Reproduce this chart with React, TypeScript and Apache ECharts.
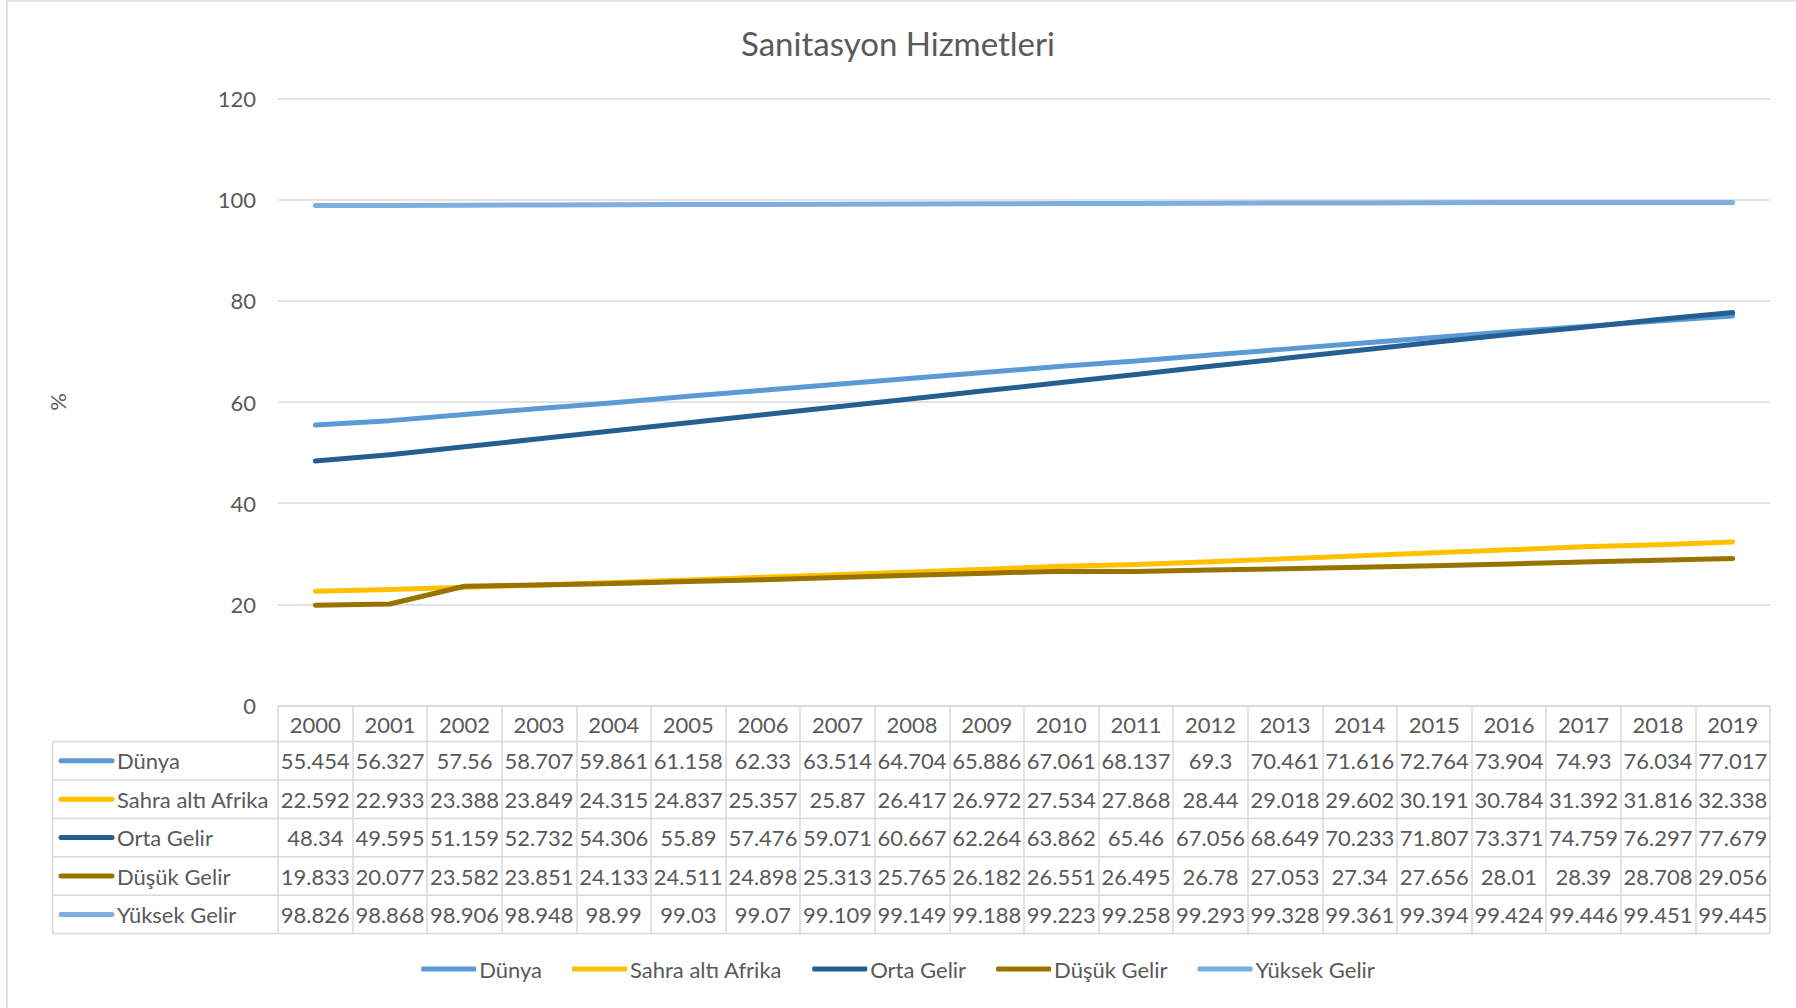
import React, { useEffect, useRef } from "react";
import * as echarts from "echarts";

const years = ["2000","2001","2002","2003","2004","2005","2006","2007","2008","2009","2010","2011","2012","2013","2014","2015","2016","2017","2018","2019"];
const dunya = [55.454,56.327,57.56,58.707,59.861,61.158,62.33,63.514,64.704,65.886,67.061,68.137,69.3,70.461,71.616,72.764,73.904,74.93,76.034,77.017];
const sahra = [22.592,22.933,23.388,23.849,24.315,24.837,25.357,25.87,26.417,26.972,27.534,27.868,28.44,29.018,29.602,30.191,30.784,31.392,31.816,32.338];
const orta = [48.34,49.595,51.159,52.732,54.306,55.89,57.476,59.071,60.667,62.264,63.862,65.46,67.056,68.649,70.233,71.807,73.371,74.759,76.297,77.679];
const dusuk = [19.833,20.077,23.582,23.851,24.133,24.511,24.898,25.313,25.765,26.182,26.551,26.495,26.78,27.053,27.34,27.656,28.01,28.39,28.708,29.056];
const yuksek = [98.826,98.868,98.906,98.948,98.99,99.03,99.07,99.109,99.149,99.188,99.223,99.258,99.293,99.328,99.361,99.394,99.424,99.446,99.451,99.445];
const seriesNames = ["Dünya","Sahra altı Afrika","Orta Gelir","Düşük Gelir","Yüksek Gelir"];
const seriesColors = ["#5B9BD5","#FFC000","#255E91","#997300","#7CAFDD"];
const seriesData = [dunya, sahra, orta, dusuk, yuksek];
const yTicks = { min: 0, max: 120, interval: 20 };

const FONT = "Lato";
const TXT = "#595959";
const LINE = "#D9D9D9";

export default function App() {
  const ref = useRef<HTMLDivElement>(null);
  useEffect(() => {
    document.body.style.margin = "0";
    const chart = echarts.init(ref.current!, null, { renderer: "svg" });
    const W = 1796, H = 1008;
    const gridLeft = 278, gridRight = 26, gridTop = 98.5, gridBottom = H - 705.6;
    const axisY = H - gridBottom;
    const rowH = 38.4;
    const headerH = 36;
    const tableLeft = 52.7;
    const tableBottom = axisY + headerH + rowH * 5;

    const option: any = {
      animation: false,
      backgroundColor: "#ffffff",
      textStyle: { fontFamily: FONT },
      title: {
        text: "Sanitasyon Hizmetleri",
        left: "center",
        top: 21,
        textStyle: { fontFamily: FONT, fontSize: 33, fontWeight: "normal", color: TXT },
      },
      legend: {
        data: seriesNames,
        left: "center",
        top: 953,
        icon: "roundRect",
        itemWidth: 55,
        itemHeight: 5,
        itemGap: 30,
        textStyle: { fontFamily: FONT, fontSize: 22, color: TXT, padding: [0, 0, 0, -2] },
      },
      grid: { left: gridLeft, right: gridRight, top: gridTop, bottom: gridBottom, containLabel: false },
      xAxis: {
        type: "category",
        data: years,
        boundaryGap: true,
        axisLine: { show: true, lineStyle: { color: LINE, width: 1.5 } },
        axisTick: { show: true, length: tableBottom - axisY, lineStyle: { color: LINE, width: 1.5 } },
        axisLabel: { fontFamily: FONT, fontSize: 22, color: TXT, margin: 8, interval: 0 },
        splitLine: { show: false },
      },
      yAxis: {
        type: "value",
        min: yTicks.min,
        max: yTicks.max,
        interval: yTicks.interval,
        name: "%",
        nameLocation: "middle",
        nameRotate: 90,
        nameGap: 210,
        nameTextStyle: { fontFamily: FONT, fontSize: 22, color: TXT },
        axisLine: { show: false },
        axisTick: { show: false },
        axisLabel: { fontFamily: FONT, fontSize: 22, color: TXT, margin: 22 },
        splitLine: { show: true, lineStyle: { color: LINE, width: 1.5 } },
      },
      series: seriesNames.map((n, i) => ({
        name: n,
        type: "line",
        data: seriesData[i],
        symbol: "none",
        showSymbol: false,
        color: seriesColors[i],
        lineStyle: { width: 5, color: seriesColors[i], cap: "round", join: "round" },
        z: 2 + i,
      })),
    };
    chart.setOption(option);

    const xs = years.map((y) => chart.convertToPixel({ xAxisIndex: 0 }, y) as number);
    const els: any[] = [];
    els.push({
      type: "rect",
      shape: { x: 7, y: 1, width: W + 20, height: H + 20 },
      style: { fill: "none", stroke: LINE, lineWidth: 1.5 },
      silent: true,
    });
    for (let r = 0; r <= 5; r++) {
      const y = axisY + headerH + r * rowH;
      els.push({
        type: "line",
        shape: { x1: tableLeft, y1: y, x2: W - gridRight, y2: y },
        style: { stroke: LINE, lineWidth: 1.5 },
        silent: true,
      });
    }
    els.push({
      type: "line",
      shape: { x1: tableLeft, y1: axisY + headerH, x2: tableLeft, y2: tableBottom },
      style: { stroke: LINE, lineWidth: 1.5 },
      silent: true,
    });
    seriesNames.forEach((n, i) => {
      const cy = axisY + headerH + (i + 0.5) * rowH;
      els.push({
        type: "line",
        shape: { x1: 61, y1: cy, x2: 112, y2: cy },
        style: { stroke: seriesColors[i], lineWidth: 5, lineCap: "round" },
        silent: true,
      });
      els.push({
        type: "text",
        x: 117,
        y: cy,
        style: { text: n, fontFamily: FONT, fontSize: 22, fill: TXT, align: "left", verticalAlign: "middle" },
        silent: true,
      });
      seriesData[i].forEach((v, j) => {
        els.push({
          type: "text",
          x: xs[j],
          y: cy,
          style: { text: String(v), fontFamily: FONT, fontSize: 22, fill: TXT, align: "center", verticalAlign: "middle" },
          silent: true,
        });
      });
    });
    chart.setOption({ graphic: els });

    return () => chart.dispose();
  }, []);
  return <div ref={ref} style={{ width: 1796, height: 1008 }} />;
}
